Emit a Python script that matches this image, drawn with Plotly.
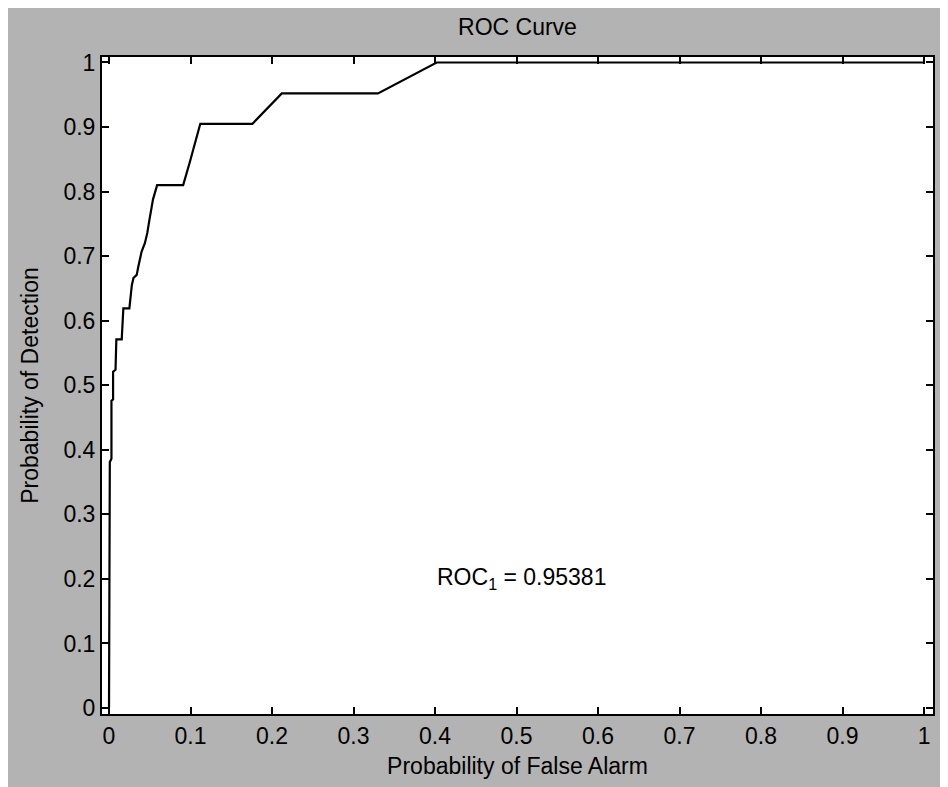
import plotly.graph_objects as go

# ROC curve points (Probability of False Alarm, Probability of Detection)
pfa = [0.0, 0.001, 0.003, 0.003, 0.005, 0.005, 0.008, 0.009, 0.0156, 0.017,
       0.0176, 0.025, 0.027, 0.028, 0.030, 0.034, 0.036, 0.038, 0.040, 0.044,
       0.047, 0.049, 0.051, 0.054, 0.059, 0.091, 0.099, 0.1076, 0.112, 0.176,
       0.212, 0.330, 0.402, 1.0]
pd_ = [0.0, 0.381, 0.386, 0.476, 0.478, 0.521, 0.524, 0.571, 0.571, 0.596,
       0.619, 0.619, 0.640, 0.655, 0.666, 0.671, 0.684, 0.695, 0.707, 0.720,
       0.736, 0.752, 0.767, 0.788, 0.810, 0.810, 0.845, 0.886, 0.905, 0.905,
       0.952, 0.952, 1.0, 1.0]

tick_vals = [0, 0.1, 0.2, 0.3, 0.4, 0.5, 0.6, 0.7, 0.8, 0.9, 1]
tick_text = ["0", "0.1", "0.2", "0.3", "0.4", "0.5", "0.6", "0.7", "0.8", "0.9", "1"]

title_text = "ROC Curve"
xlabel = "Probability of False Alarm"
ylabel = "Probability of Detection"
auc_text = "ROC<sub>1</sub> = 0.95381"

FONT = "Liberation Sans, Arial, sans-serif"

fig = go.Figure()
fig.add_trace(go.Scatter(x=pfa, y=pd_, mode="lines",
                         line=dict(color="black", width=2.2), showlegend=False,
                         hoverinfo="skip"))

axis_common = dict(
    showgrid=False, zeroline=False,
    showline=True, linecolor="black", linewidth=2, mirror="ticks",
    ticks="inside", ticklen=7, tickwidth=2, tickcolor="black",
    tickvals=tick_vals, ticktext=tick_text,
    tickfont=dict(family=FONT, size=23, color="black"),
)

fig.update_xaxes(range=[-0.0086, 1.011], **axis_common,
                 title=dict(text=xlabel, font=dict(family=FONT, size=23, color="black"),
                            standoff=10))
fig.update_yaxes(range=[-0.0093, 1.0085], **axis_common,
                 title=dict(text=ylabel, font=dict(family=FONT, size=23, color="black"),
                            standoff=18))

fig.add_annotation(x=0.4, y=0.2, xref="x", yref="y", text=auc_text,
                   showarrow=False, xanchor="left", yanchor="middle",
                   font=dict(family=FONT, size=23, color="black"))

fig.update_layout(
    width=948, height=787,
    margin=dict(l=94, r=23, t=49, b=81),
    paper_bgcolor="#b3b3b3", plot_bgcolor="white",
    title=dict(text=title_text, x=0.5, xref="paper", xanchor="center",
               y=1 - 19 / 787, yanchor="middle",
               font=dict(family=FONT, size=23, color="black")),
)

fig.write_html("out.html")
